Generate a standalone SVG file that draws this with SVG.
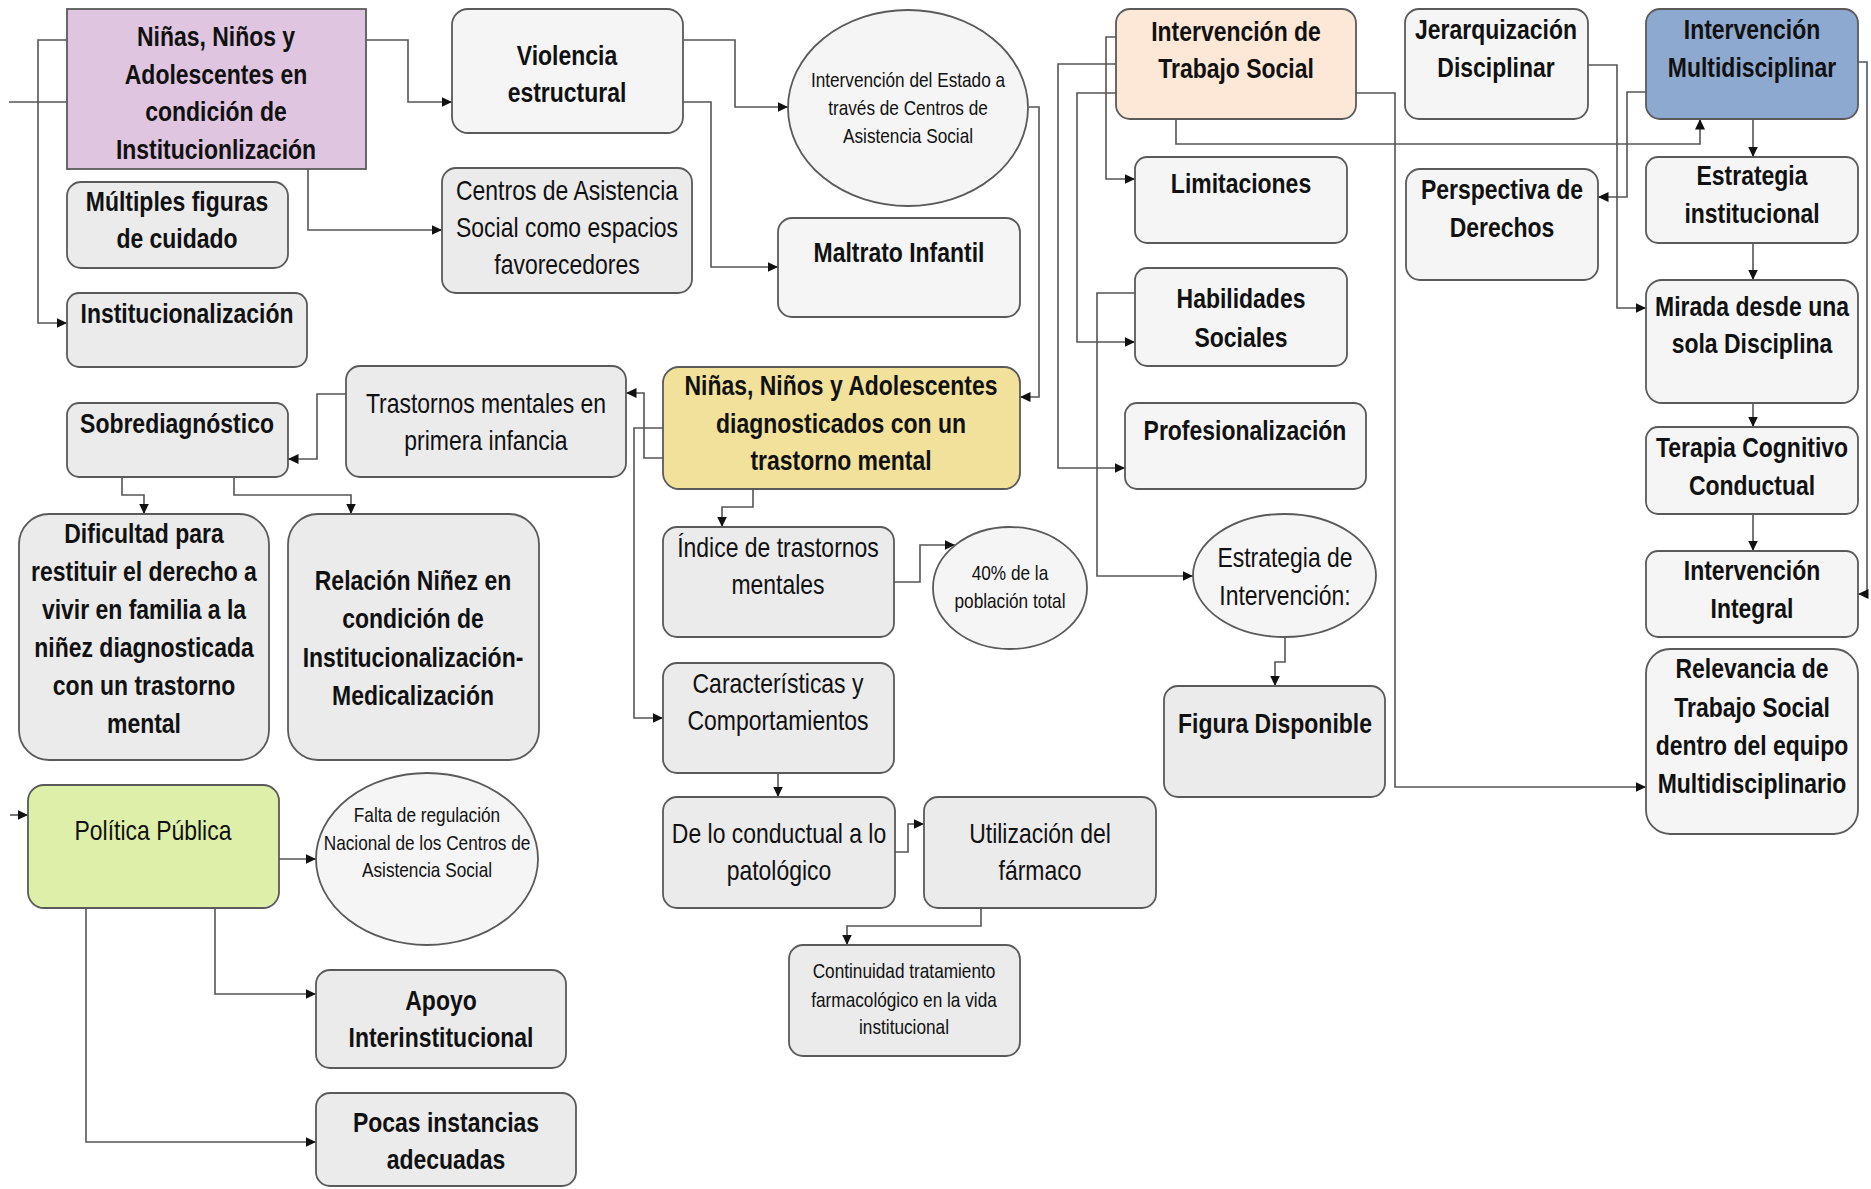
<svg xmlns="http://www.w3.org/2000/svg" width="1871" height="1189" viewBox="0 0 1871 1189">
<defs>
<marker id="arr" markerUnits="userSpaceOnUse" markerWidth="11" markerHeight="10" refX="10.5" refY="5" orient="auto">
<path d="M0,0 L10.5,5 L0,10 z" fill="#111"/>
</marker>
<style>
.node rect, .node ellipse { stroke:#5a5a5a; stroke-width:1.8; }
.g1 { fill:#f5f5f5; }
.g2 { fill:#ebebeb; }
text { font-family:"Liberation Sans", Arial, sans-serif; fill:#111; text-anchor:middle; }
.b { font-weight:bold; font-size:28px; }
.r { font-size:28px; }
.s { font-size:21px; }
#edges path { fill:none; stroke:#555; stroke-width:1.6; }
#edges path.a { marker-end:url(#arr); }
</style>
</defs>
<rect width="1871" height="1189" fill="#ffffff"/>

<g id="edges">
<path d="M9,102 H67"/>
<path class="a" d="M67,40 H38 V323 H67"/>
<path class="a" d="M366,40 H408 V102 H452"/>
<path class="a" d="M308,169 V230 H442"/>
<path class="a" d="M682,40 H735 V107 H788"/>
<path class="a" d="M682,102 H711 V267 H778"/>
<path class="a" d="M1029,107 H1039 V397 H1020"/>
<path class="a" d="M663,458 H644 V393 H626"/>
<path class="a" d="M663,428 H634 V718 H663"/>
<path class="a" d="M753,489 V507 H722 V527"/>
<path class="a" d="M894,582 H920 V545 H955"/>
<path class="a" d="M778,773 V797"/>
<path class="a" d="M895,852 H908 V824 H924"/>
<path class="a" d="M981,908 V926 H847 V945"/>
<path class="a" d="M346,394 H317 V459 H288"/>
<path class="a" d="M122,477 V495 H144 V514"/>
<path class="a" d="M234,477 V495 H351 V514"/>
<path class="a" d="M10,815 H28"/>
<path class="a" d="M279,859 H316"/>
<path class="a" d="M215,908 V994 H316"/>
<path class="a" d="M86,908 V1142 H316"/>
<path class="a" d="M1116,37 H1106 V179 H1135"/>
<path class="a" d="M1116,64 H1058 V468 H1125"/>
<path class="a" d="M1116,93 H1077 V342 H1135"/>
<path class="a" d="M1135,293 H1097 V576 H1193"/>
<path class="a" d="M1285,637 V662 H1275 V686"/>
<path class="a" d="M1356,93 H1395 V787 H1646"/>
<path class="a" d="M1176,119 V144 H1700 V119"/>
<path class="a" d="M1588,65 H1617 V308 H1646"/>
<path class="a" d="M1646,92 H1627 V197 H1598"/>
<path class="a" d="M1858,62 H1867 V594 H1858"/>
<path class="a" d="M1753,119 V157"/>
<path class="a" d="M1753,243 V280"/>
<path class="a" d="M1753,403 V427"/>
<path class="a" d="M1753,514 V551"/>
</g>

<g id="n-ninos-institucion" class="node">
<rect x="67" y="9" width="299" height="160" fill="#dfc5df"/>
<text class="b" transform="translate(216 0) scale(0.82 1)"><tspan x="0" y="46">Niñas, Niños y</tspan><tspan x="0" y="84">Adolescentes en</tspan><tspan x="0" y="121">condición de</tspan><tspan x="0" y="159">Institucionlización</tspan></text>
</g>
<g id="n-violencia" class="node">
<rect x="452" y="9" width="231" height="124" rx="16" class="g1"/>
<text class="b" transform="translate(567 0) scale(0.82 1)"><tspan x="0" y="65">Violencia</tspan><tspan x="0" y="102">estructural</tspan></text>
</g>
<g id="n-multiples" class="node">
<rect x="67" y="182" width="221" height="86" rx="14" class="g2"/>
<text class="b" transform="translate(177 0) scale(0.82 1)"><tspan x="0" y="211">Múltiples figuras</tspan><tspan x="0" y="248">de cuidado</tspan></text>
</g>
<g id="n-institucionalizacion" class="node">
<rect x="67" y="293" width="240" height="74" rx="12" class="g2"/>
<text class="b" transform="translate(187 0) scale(0.82 1)"><tspan x="0" y="323">Institucionalización</tspan></text>
</g>
<g id="n-centros" class="node">
<rect x="442" y="168" width="250" height="125" rx="14" class="g2"/>
<text class="r" transform="translate(567 0) scale(0.82 1)"><tspan x="0" y="200">Centros de Asistencia</tspan><tspan x="0" y="237">Social como espacios</tspan><tspan x="0" y="274">favorecedores</tspan></text>
</g>
<g id="n-estado" class="node">
<ellipse cx="908" cy="108" rx="120" ry="98" class="g1"/>
<text class="s" transform="translate(908 0) scale(0.82 1)"><tspan x="0" y="87">Intervención del Estado a</tspan><tspan x="0" y="115">través de Centros de</tspan><tspan x="0" y="143">Asistencia Social</tspan></text>
</g>
<g id="n-maltrato" class="node">
<rect x="778" y="218" width="242" height="99" rx="14" class="g1"/>
<text class="b" transform="translate(899 0) scale(0.82 1)"><tspan x="0" y="262">Maltrato Infantil</tspan></text>
</g>
<g id="n-trabajo-social" class="node">
<rect x="1116" y="9" width="240" height="110" rx="14" fill="#fde7d6"/>
<text class="b" transform="translate(1236 0) scale(0.82 1)"><tspan x="0" y="41">Intervención de</tspan><tspan x="0" y="78">Trabajo Social</tspan></text>
</g>
<g id="n-jerarquizacion" class="node">
<rect x="1405" y="9" width="183" height="110" rx="14" class="g1"/>
<text class="b" transform="translate(1496 0) scale(0.82 1)"><tspan x="0" y="39">Jerarquización</tspan><tspan x="0" y="77">Disciplinar</tspan></text>
</g>
<g id="n-multidisciplinar" class="node">
<rect x="1646" y="9" width="212" height="110" rx="14" fill="#8ea9cf"/>
<text class="b" transform="translate(1752 0) scale(0.82 1)"><tspan x="0" y="39">Intervención</tspan><tspan x="0" y="77">Multidisciplinar</tspan></text>
</g>
<g id="n-limitaciones" class="node">
<rect x="1135" y="157" width="212" height="86" rx="12" class="g1"/>
<text class="b" transform="translate(1241 0) scale(0.82 1)"><tspan x="0" y="193">Limitaciones</tspan></text>
</g>
<g id="n-habilidades" class="node">
<rect x="1135" y="268" width="212" height="98" rx="12" class="g1"/>
<text class="b" transform="translate(1241 0) scale(0.82 1)"><tspan x="0" y="308">Habilidades</tspan><tspan x="0" y="347">Sociales</tspan></text>
</g>
<g id="n-perspectiva" class="node">
<rect x="1406" y="169" width="192" height="111" rx="14" class="g1"/>
<text class="b" transform="translate(1502 0) scale(0.82 1)"><tspan x="0" y="199">Perspectiva de</tspan><tspan x="0" y="237">Derechos</tspan></text>
</g>
<g id="n-estrategia-inst" class="node">
<rect x="1646" y="157" width="212" height="86" rx="12" class="g1"/>
<text class="b" transform="translate(1752 0) scale(0.82 1)"><tspan x="0" y="185">Estrategia</tspan><tspan x="0" y="223">institucional</tspan></text>
</g>
<g id="n-mirada" class="node">
<rect x="1646" y="280" width="212" height="123" rx="16" class="g1"/>
<text class="b" transform="translate(1752 0) scale(0.82 1)"><tspan x="0" y="316">Mirada desde una</tspan><tspan x="0" y="353">sola Disciplina</tspan></text>
</g>
<g id="n-profesionalizacion" class="node">
<rect x="1125" y="403" width="241" height="86" rx="12" class="g1"/>
<text class="b" transform="translate(1245 0) scale(0.82 1)"><tspan x="0" y="440">Profesionalización</tspan></text>
</g>
<g id="n-terapia" class="node">
<rect x="1646" y="427" width="212" height="87" rx="12" class="g1"/>
<text class="b" transform="translate(1752 0) scale(0.82 1)"><tspan x="0" y="457">Terapia Cognitivo</tspan><tspan x="0" y="495">Conductual</tspan></text>
</g>
<g id="n-integral" class="node">
<rect x="1646" y="551" width="212" height="86" rx="12" class="g1"/>
<text class="b" transform="translate(1752 0) scale(0.82 1)"><tspan x="0" y="580">Intervención</tspan><tspan x="0" y="618">Integral</tspan></text>
</g>
<g id="n-relevancia" class="node">
<rect x="1646" y="649" width="212" height="185" rx="24" class="g1"/>
<text class="b" transform="translate(1752 0) scale(0.82 1)"><tspan x="0" y="678">Relevancia de</tspan><tspan x="0" y="717">Trabajo Social</tspan><tspan x="0" y="755">dentro del equipo</tspan><tspan x="0" y="793">Multidisciplinario</tspan></text>
</g>
<g id="n-estrategia-intervencion" class="node">
<ellipse cx="1284.5" cy="575.5" rx="91.5" ry="61.5" class="g1"/>
<text class="r" transform="translate(1285 0) scale(0.82 1)"><tspan x="0" y="567">Estrategia de</tspan><tspan x="0" y="605">Intervención:</tspan></text>
</g>
<g id="n-figura" class="node">
<rect x="1164" y="686" width="221" height="111" rx="14" class="g2"/>
<text class="b" transform="translate(1275 0) scale(0.82 1)"><tspan x="0" y="733">Figura Disponible</tspan></text>
</g>
<g id="n-trastornos" class="node">
<rect x="346" y="366" width="280" height="111" rx="14" class="g2"/>
<text class="r" transform="translate(486 0) scale(0.82 1)"><tspan x="0" y="413">Trastornos mentales en</tspan><tspan x="0" y="450">primera infancia</tspan></text>
</g>
<g id="n-diagnosticados" class="node">
<rect x="663" y="367" width="357" height="122" rx="16" fill="#f1e19a"/>
<text class="b" transform="translate(841 0) scale(0.82 1)"><tspan x="0" y="395">Niñas, Niños y Adolescentes</tspan><tspan x="0" y="433">diagnosticados con un</tspan><tspan x="0" y="470">trastorno mental</tspan></text>
</g>
<g id="n-sobrediagnostico" class="node">
<rect x="67" y="403" width="221" height="74" rx="12" class="g2"/>
<text class="b" transform="translate(177 0) scale(0.82 1)"><tspan x="0" y="433">Sobrediagnóstico</tspan></text>
</g>
<g id="n-indice" class="node">
<rect x="663" y="527" width="231" height="110" rx="14" class="g2"/>
<text class="r" transform="translate(778 0) scale(0.82 1)"><tspan x="0" y="557">Índice de trastornos</tspan><tspan x="0" y="594">mentales</tspan></text>
</g>
<g id="n-poblacion" class="node">
<ellipse cx="1010" cy="588" rx="77" ry="61" class="g1"/>
<text class="s" transform="translate(1010 0) scale(0.82 1)"><tspan x="0" y="580">40% de la</tspan><tspan x="0" y="608">población total</tspan></text>
</g>
<g id="n-dificultad" class="node">
<rect x="19" y="514" width="250" height="246" rx="30" class="g2"/>
<text class="b" transform="translate(144 0) scale(0.82 1)"><tspan x="0" y="543">Dificultad para</tspan><tspan x="0" y="581">restituir el derecho a</tspan><tspan x="0" y="619">vivir en familia a la</tspan><tspan x="0" y="657">niñez diagnosticada</tspan><tspan x="0" y="695">con un trastorno</tspan><tspan x="0" y="733">mental</tspan></text>
</g>
<g id="n-relacion" class="node">
<rect x="288" y="514" width="251" height="246" rx="30" class="g2"/>
<text class="b" transform="translate(413 0) scale(0.82 1)"><tspan x="0" y="590">Relación Niñez en</tspan><tspan x="0" y="628">condición de</tspan><tspan x="0" y="667">Institucionalización-</tspan><tspan x="0" y="705">Medicalización</tspan></text>
</g>
<g id="n-caracteristicas" class="node">
<rect x="663" y="663" width="231" height="110" rx="14" class="g2"/>
<text class="r" transform="translate(778 0) scale(0.82 1)"><tspan x="0" y="693">Características y</tspan><tspan x="0" y="730">Comportamientos</tspan></text>
</g>
<g id="n-conductual" class="node">
<rect x="663" y="797" width="232" height="111" rx="14" class="g2"/>
<text class="r" transform="translate(779 0) scale(0.82 1)"><tspan x="0" y="843">De lo conductual a lo</tspan><tspan x="0" y="880">patológico</tspan></text>
</g>
<g id="n-farmaco" class="node">
<rect x="924" y="797" width="232" height="111" rx="14" class="g2"/>
<text class="r" transform="translate(1040 0) scale(0.82 1)"><tspan x="0" y="843">Utilización del</tspan><tspan x="0" y="880">fármaco</tspan></text>
</g>
<g id="n-continuidad" class="node">
<rect x="789" y="945" width="231" height="111" rx="14" class="g2"/>
<text class="s" transform="translate(904 0) scale(0.82 1)"><tspan x="0" y="978">Continuidad tratamiento</tspan><tspan x="0" y="1007">farmacológico en la vida</tspan><tspan x="0" y="1034">institucional</tspan></text>
</g>
<g id="n-politica" class="node">
<rect x="28" y="785" width="251" height="123" rx="16" fill="#ddefa8"/>
<text class="r" transform="translate(153 0) scale(0.82 1)"><tspan x="0" y="840">Política Pública</tspan></text>
</g>
<g id="n-falta" class="node">
<ellipse cx="427" cy="859" rx="111" ry="86" class="g1"/>
<text class="s" transform="translate(427 0) scale(0.82 1)"><tspan x="0" y="822">Falta de regulación</tspan><tspan x="0" y="850">Nacional de los Centros de</tspan><tspan x="0" y="877">Asistencia Social</tspan></text>
</g>
<g id="n-apoyo" class="node">
<rect x="316" y="970" width="250" height="98" rx="14" class="g2"/>
<text class="b" transform="translate(441 0) scale(0.82 1)"><tspan x="0" y="1010">Apoyo</tspan><tspan x="0" y="1047">Interinstitucional</tspan></text>
</g>
<g id="n-pocas" class="node">
<rect x="316" y="1093" width="260" height="93" rx="14" class="g2"/>
<text class="b" transform="translate(446 0) scale(0.82 1)"><tspan x="0" y="1132">Pocas instancias</tspan><tspan x="0" y="1169">adecuadas</tspan></text>
</g>
</svg>
